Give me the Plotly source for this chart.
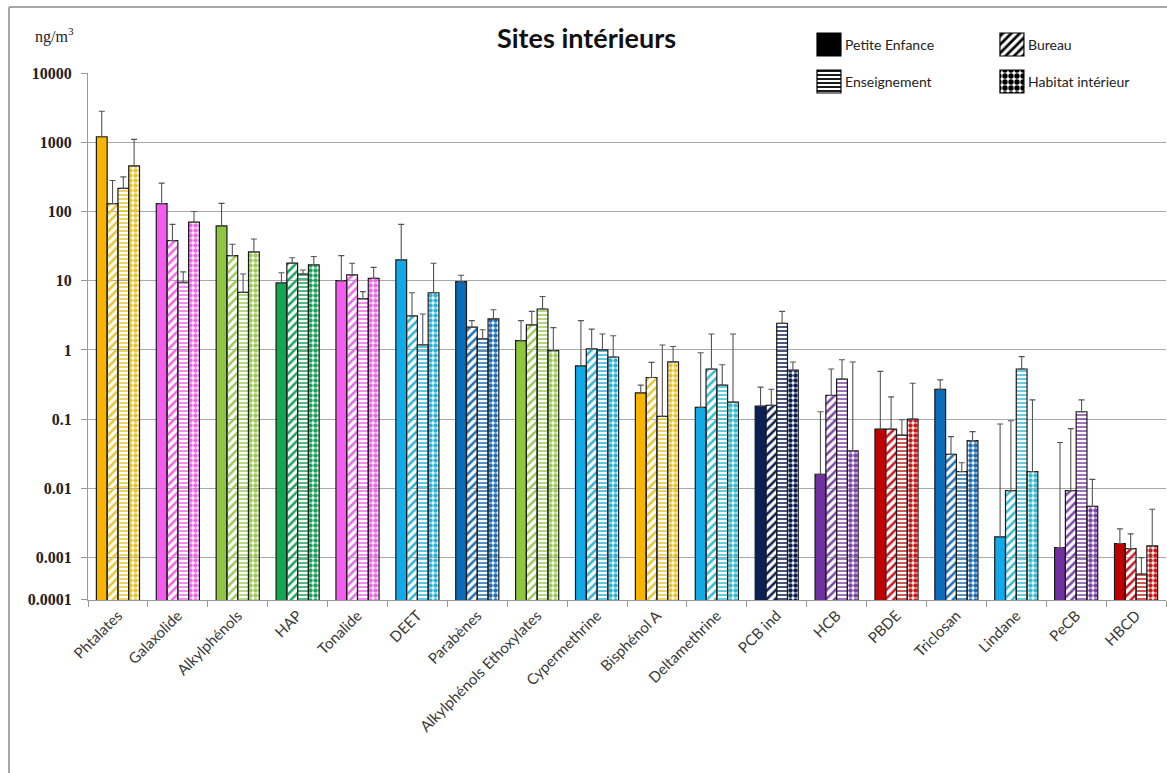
import plotly.graph_objects as go

# ---------------- data ----------------
categories = ["Phtalates", "Galaxolide", "Alkylphénols", "HAP", "Tonalide", "DEET",
              "Parabènes", "Alkylphénols Ethoxylates", "Cypermethrine", "Bisphénol A",
              "Deltamethrine", "PCB ind", "HCB", "PBDE", "Triclosan", "Lindane", "PeCB", "HBCD"]

series_names = ["Petite Enfance", "Bureau", "Enseignement", "Habitat intérieur"]

petite = [1200, 130, 62, 9.3, 10, 20, 9.7, 1.36, 0.59, 0.24, 0.148, 0.155, 0.016, 0.072, 0.27, 0.002, 0.0014, 0.0016]
petite_err_top = [2800, 257, 131, 13, 23, 65, 12, 2.65, 2.65, 0.31, 0.91, 0.29, 0.128, 0.49, 0.37, 0.085, 0.046, 0.0026]

bureau = [130, 38, 23, 17.9, 12.1, 3.1, 2.13, 2.3, 1.04, 0.40, 0.53, 0.158, 0.22, 0.072, 0.031, 0.0093, 0.0093, 0.00135]
bureau_err_top = [280, 65, 33.6, 21.4, 17.9, 6.7, 2.65, 3.6, 2.0, 0.66, 1.7, 0.27, 0.53, 0.21, 0.056, 0.095, 0.073, 0.0022]

enseignement = [216, 9.5, 6.8, 12.5, 5.5, 1.18, 1.45, 3.9, 1.0, 0.11, 0.31, 2.43, 0.38, 0.059, 0.0175, 0.53, 0.128, 0.00058]
enseignement_err_top = [316, 13.4, 12.5, 14.3, 6.95, 3.3, 1.96, 5.9, 1.7, 1.18, 0.61, 3.6, 0.72, 0.098, 0.0235, 0.8, 0.19, 0.001]

habitat = [455, 70, 26, 17, 10.8, 6.7, 2.8, 0.98, 0.79, 0.67, 0.176, 0.51, 0.035, 0.1, 0.049, 0.0175, 0.0055, 0.00148]
habitat_err_top = [1100, 100, 40, 22.4, 15.6, 17.9, 3.8, 2.1, 1.6, 1.12, 1.7, 0.67, 0.67, 0.33, 0.066, 0.19, 0.0135, 0.005]

solid_colors = ["#F7B500", "#F45CF0", "#8DC63F", "#12A650", "#F45CF0", "#12A9E8",
                "#0A6BB8", "#8DC63F", "#12A9E8", "#F7B500", "#12A9E8", "#0C1F55",
                "#7030A0", "#C00000", "#0A6BB8", "#12A9E8", "#7030A0", "#C00000"]
pattern_colors = ["#E8C530", "#EE66EE", "#9CCB55", "#19A35B", "#EE66EE", "#2BB3DA",
                  "#1F6FB5", "#9CCB55", "#2BB3DA", "#E8C530", "#35BCD0", "#0C1F55",
                  "#7E45AA", "#C81C1C", "#1F6FB5", "#35BCD0", "#7E45AA", "#C81C1C"]

y_tickvals_log = [-3.61, -3, -2, -1, 0, 1, 2, 3, 4]
y_ticktext = ["0.0001", "0.001", "0.01", "0.1", "1", "10", "100", "1000", "10000"]

# ---------------- layout helpers ----------------
W, H = 1167, 773
ML, MR, MT, MB = 88, 1, 20, 173
PW, PH = W - ML - MR, H - MT - MB


def px2x(px):
    return (px - ML) / PW


def py2y(py):
    return (H - MB - py) / PH


fig = go.Figure()

series = [
    (petite, petite_err_top, ""),
    (bureau, bureau_err_top, "/"),
    (enseignement, enseignement_err_top, "-"),
    (habitat, habitat_err_top, "."),
]
pattern_size = {"": 8, "/": 6, "-": 4, ".": 5}
pattern_solidity = {"": 0.3, "/": 0.42, "-": 0.38, ".": 0.62}

for name, (vals, tops, shape) in zip(series_names, series):
    plus = [t - v for t, v in zip(tops, vals)]
    if shape == "":
        marker = dict(color=solid_colors, line=dict(color="#1a1a1a", width=1.2))
    else:
        marker = dict(
            color=pattern_colors,
            line=dict(color="#1a1a1a", width=1.2),
            pattern=dict(shape=shape, fgcolor=pattern_colors, bgcolor="white",
                         size=pattern_size[shape], solidity=pattern_solidity[shape],
                         fillmode="replace"),
        )
    fig.add_trace(go.Bar(
        x=categories, y=vals, name=name, marker=marker, showlegend=False,
        error_y=dict(type="data", symmetric=False, array=plus,
                     arrayminus=[0] * len(vals), color="#555555",
                     thickness=1.1, width=3),
    ))

# ---------------- custom legend (swatches on a small helper axis) ----------------
legend_cols = [0, 1, 0, 1]
legend_rows = [1.158, 1.158, 0.184, 0.184]
legend_shapes = ["", "/", "-", "."]
fig.add_trace(go.Bar(
    x=legend_cols, y=[0.605] * 4, base=legend_rows, width=[0.131] * 4,
    xaxis="x2", yaxis="y2", showlegend=False, hoverinfo="skip",
    marker=dict(color="black", line=dict(color="black", width=1.2),
                pattern=dict(shape=legend_shapes, fgcolor="black", bgcolor="white",
                             size=[8, 6, 4, 6], solidity=[0.3, 0.45, 0.45, 0.62],
                             fillmode="replace")),
))

annotations = []
for name, c, r in zip(series_names, legend_cols, legend_rows):
    annotations.append(dict(
        x=c + 0.075, y=r + 0.30, xref="x2", yref="y2", text=name, showarrow=False,
        xanchor="left", yanchor="middle",
        font=dict(family="Lato", size=14, color="#222222"),
    ))

annotations.append(dict(
    x=px2x(586), y=py2y(38), xref="paper", yref="paper",
    text="<b>Sites intérieurs</b>", showarrow=False, xanchor="center", yanchor="middle",
    font=dict(family="Lato", size=27, color="#111111"),
))
annotations.append(dict(
    x=px2x(33), y=py2y(35), xref="paper", yref="paper",
    text="ng/m<sup>3</sup>", showarrow=False, xanchor="left", yanchor="middle",
    font=dict(family="Liberation Serif", size=16, color="#222222"),
))

shapes = [
    dict(type="line", xref="paper", yref="paper", x0=px2x(9), x1=px2x(9),
         y0=py2y(H + 5), y1=py2y(7), line=dict(color="#A6A6A6", width=2)),
    dict(type="line", xref="paper", yref="paper", x0=px2x(9), x1=px2x(W + 5),
         y0=py2y(7), y1=py2y(7), line=dict(color="#A6A6A6", width=2)),
]

fig.update_layout(
    width=W, height=H,
    margin=dict(l=ML, r=MR, t=MT, b=MB, pad=0),
    paper_bgcolor="white", plot_bgcolor="white",
    barmode="group", bargap=0.28, bargroupgap=0,
    showlegend=False,
    annotations=annotations, shapes=shapes,
    xaxis=dict(
        type="category", tickson="boundaries", ticks="outside", ticklen=6,
        tickcolor="#999999", showline=True, linecolor="#999999", linewidth=1,
        tickangle=-45, tickfont=dict(family="Lato", size=15, color="#3a3a3a"),
        showgrid=False, fixedrange=True,
    ),
    yaxis=dict(
        type="log", range=[-3.612, 4.0], domain=[0, py2y(73)],
        tickvals=[10 ** v for v in y_tickvals_log], ticktext=y_ticktext,
        ticks="outside", ticklen=6, tickcolor="#999999", ticklabelstandoff=6,
        showline=True, linecolor="#999999", linewidth=1,
        showgrid=True, gridcolor="#A8A8A8", gridwidth=1, zeroline=False,
        tickfont=dict(family="Liberation Serif", size=16, color="#222222", weight="bold"),
    ),
    xaxis2=dict(domain=[px2x(816), 1.0], range=[-0.071, 1.842], anchor="y2",
                visible=False, fixedrange=True),
    yaxis2=dict(domain=[py2y(100), py2y(25)], range=[0, 1.974], anchor="x2",
                visible=False, fixedrange=True),
)

fig.write_html("out.html")
